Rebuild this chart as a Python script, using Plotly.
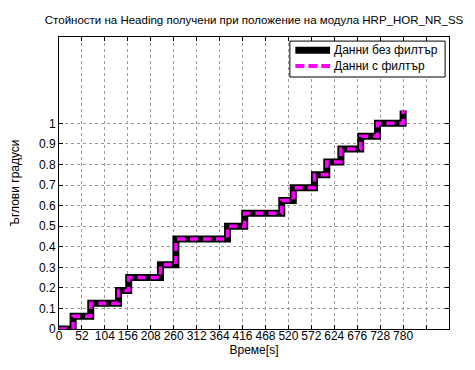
import plotly.graph_objects as go

# Step times (s) and heading values (degrees)
time_s = [0, 32, 72, 135, 158, 230, 265, 382, 421, 505, 531, 579, 607, 639, 684, 722, 780]
heading_raw = [0, 0.0625, 0.125, 0.1875, 0.25, 0.3125, 0.4375, 0.5, 0.5625, 0.625,
               0.6875, 0.75, 0.8125, 0.875, 0.9375, 1.0, 1.0625]
heading_filt = list(heading_raw)
series_names = ["Данни без филтър", "Данни с филтър"]

x_ticks = list(range(0, 885, 52))
x_ticklabels = [str(v) if v <= 780 else "" for v in x_ticks]
y_ticks = [i / 10 for i in range(11)]
y_ticklabels = ["0", "0.1", "0.2", "0.3", "0.4", "0.5", "0.6", "0.7", "0.8", "0.9", "1"]

raw_line = dict(color="black", width=7)
filt_line = dict(color="#ff00ff", width=3.5, dash="8px,5px")

fig = go.Figure()
fig.add_trace(go.Scatter(
    x=time_s, y=heading_raw, mode="lines", line_shape="hv",
    name=series_names[0], line=raw_line,
))
fig.add_trace(go.Scatter(
    x=time_s, y=heading_filt, mode="lines", line_shape="hv",
    name=series_names[1], line=filt_line,
))

# Legend box drawn in plot-area (paper) coordinates, MATLAB style
lx0, lx1, ly0, ly1 = 0.592, 0.990, 0.863, 0.986
rows_y = [0.955, 0.901]
shapes = [dict(type="rect", xref="paper", yref="paper", x0=lx0, x1=lx1, y0=ly0, y1=ly1,
               line=dict(color="black", width=1), fillcolor="white", layer="above")]
annotations = []
for name, ln, yy in zip(series_names, [raw_line, dict(color="#ff00ff", width=4, dash="9px,4px")], rows_y):
    shapes.append(dict(type="line", xref="paper", yref="paper", x0=0.606, x1=0.695,
                       y0=yy, y1=yy, line=ln, layer="above"))
    annotations.append(dict(xref="paper", yref="paper", x=0.700, y=yy, text=name,
                            showarrow=False, xanchor="left", yanchor="middle",
                            font=dict(size=12)))

font = "Liberation Sans, Arial, sans-serif"
fig.update_layout(
    width=475, height=370,
    margin=dict(l=51, r=34, t=29, b=49),
    paper_bgcolor="white", plot_bgcolor="white",
    font=dict(family=font, size=12, color="black"),
    title=dict(text="Стойности на Heading получени при положение на модула HRP_HOR_NR_SS",
               x=0.518, xanchor="center", y=0.978, yanchor="top",
               font=dict(size=11.5, family=font)),
    showlegend=False,
    shapes=shapes, annotations=annotations,
)
fig.update_xaxes(
    range=[0, 884], tickmode="array", tickvals=x_ticks, ticktext=x_ticklabels,
    showline=True, linecolor="black", linewidth=1, mirror="ticks",
    ticks="inside", ticklen=4, tickcolor="black",
    showgrid=True, gridcolor="#9a9a9a", griddash="dot", gridwidth=1,
    zeroline=False, ticklabelstandoff=-4, automargin=False,
    title=dict(text="Време[s]", standoff=3, font=dict(size=12)),
    tickfont=dict(size=12),
)
fig.update_yaxes(
    range=[0, 1.42], tickmode="array", tickvals=y_ticks, ticktext=y_ticklabels,
    showline=True, linecolor="black", linewidth=1, mirror="ticks",
    ticks="inside", ticklen=4, tickcolor="black",
    showgrid=True, gridcolor="#9a9a9a", griddash="dot", gridwidth=1,
    zeroline=False, automargin=False,
    title=dict(text="Ъглови градуси", standoff=16, font=dict(size=12)),
    tickfont=dict(size=12),
)

fig.write_html("out.html")
